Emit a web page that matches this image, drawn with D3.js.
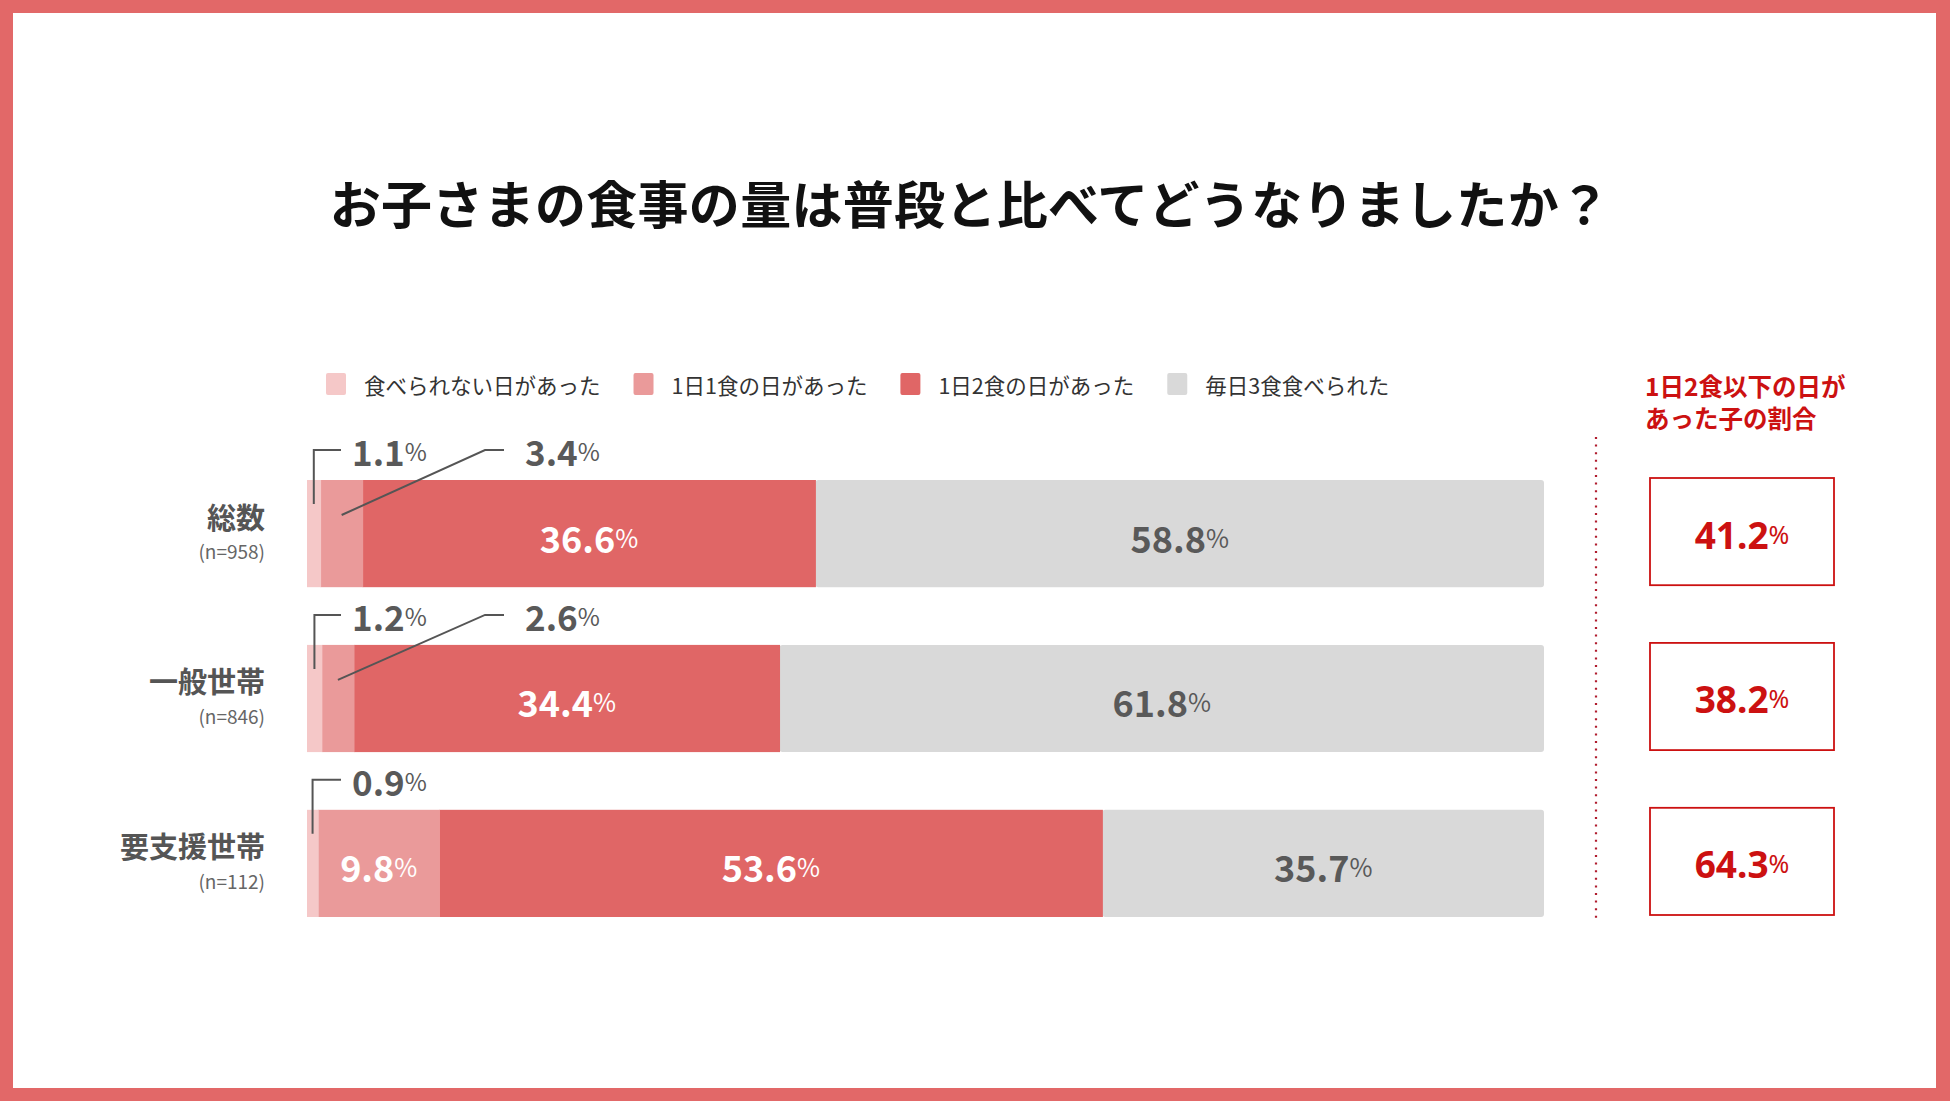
<!DOCTYPE html>
<html>
<head>
<meta charset="utf-8">
<script src="https://cdn.jsdelivr.net/npm/d3@7"></script>
<style>
  body { margin: 0; background: #fff; }
  svg text { font-family: "Noto Sans CJK JP", "Noto Sans", sans-serif; }
</style>
</head>
<body>
<svg id="chart" width="1950" height="1101"></svg>
<script>
// rows of the chart
const groups = ['総数', '一般世帯', '要支援世帯'];
const sampleSizes = ['(n=958)', '(n=846)', '(n=112)'];

// legend / series names
const categories = ['食べられない日があった', '1日1食の日があった', '1日2食の日があった', '毎日3食食べられた'];

// series values (%)
const noMeal = [1.1, 1.2, 0.9];
const oneMeal = [3.4, 2.6, 9.8];
const twoMeals = [36.6, 34.4, 53.6];
const threeMeals = [58.8, 61.8, 35.7];

// 1日2食以下の日があった子の割合
const twoOrLess = [41.2, 38.2, 64.3];

const colors = ['#f5c8c8', '#ea9a9a', '#e06666', '#d9d9d9'];
const red = '#cc1111';

const svg = d3.select('#chart');
const W = 1950, H = 1101;

/// frame
svg.append('rect').attr('width', W).attr('height', H).attr('fill', '#e26868');
svg.append('rect').attr('x', 13).attr('y', 13).attr('width', W - 27).attr('height', H - 26).attr('fill', '#fff');

/// title
svg.append('text')
  .attr('x', 970).attr('y', 202)
  .attr('text-anchor', 'middle').attr('dominant-baseline', 'central')
  .attr('font-size', 51).attr('font-weight', 700).attr('fill', '#111')
  .attr('letter-spacing', 0.3)
  .text('お子さまの食事の量は普段と比べてどうなりましたか？');

/// scales
const x = d3.scaleLinear().domain([0, 100]).range([307, 1544]);
const y = d3.scaleBand().domain(groups).range([480, 917]).paddingInner(0.35);

const rows = groups.map(function(g, i) {
  return { group: g, n: sampleSizes[i], values: [noMeal[i], oneMeal[i], twoMeals[i], threeMeals[i]] };
});

/// legend
let lx = 326;
const legend = svg.append('g');
categories.forEach(function(c, i) {
  const item = legend.append('g').attr('transform', 'translate(' + lx + ',373)');
  item.append('rect').attr('width', 20).attr('height', 22).attr('rx', 2).attr('fill', colors[i]);
  const t = item.append('text')
    .attr('x', 38).attr('y', 11).attr('dominant-baseline', 'central')
    .attr('font-size', 21.5).attr('fill', '#333')
    .text(c);
  lx += 38 + t.node().getComputedTextLength() + 33;
});

/// helper: number with a smaller %
function pctText(sel, v, big, small) {
  sel.append('tspan').attr('font-size', big).text(v.toFixed(1));
  sel.append('tspan').attr('font-size', small).attr('font-weight', 400).text('%');
}

/// bars
const rowG = svg.selectAll('.row')
  .data(rows)
  .enter().append('g')
  .attr('class', 'row')
  .attr('transform', function(d) { return 'translate(0,' + y(d.group) + ')'; });

const bw = y.bandwidth();

rowG.each(function(d) {
  const g = d3.select(this);
  let acc = 0;
  const segs = d.values.map(function(v, k) {
    const s = { k: k, v: v, x0: acc, x1: acc + v };
    acc += v;
    return s;
  });
  // gray remainder runs to the end of the bar
  segs[3].x1 = 100;

  g.selectAll('rect.seg')
    .data(segs.slice().reverse())
    .enter().append('rect')
    .attr('class', 'seg')
    .attr('x', function(s) { return x(s.x0); })
    .attr('y', 0)
    .attr('width', function(s) { return x(s.x1) - x(s.x0) + (s.k === 3 ? 0 : 0.5); })
    .attr('height', bw)
    .attr('rx', function(s) { return s.k === 3 ? 3 : 0; })
    .attr('fill', function(s) { return colors[s.k]; });

  segs.forEach(function(s) {
    const cx = (x(s.x0) + x(s.x1)) / 2;
    if (s.v >= 5) {
      const t = g.append('text')
        .attr('x', cx).attr('y', bw / 2 + 3)
        .attr('text-anchor', 'middle').attr('dominant-baseline', 'central')
        .attr('font-weight', 700)
        .attr('fill', s.k === 3 ? '#595959' : '#fff');
      pctText(t, s.v, 36, 25);
    } else {
      // outside label with leader line
      const first = s.k === 0;
      const elbowX = first ? x(0) + 34 : x(0) + 178;
      const endX = first ? x(0) + 34 : x(0) + 197;
      const ly = -30;
      const pts = first
        ? [[cx, 24], [cx, ly], [endX, ly]]
        : [[cx, 35], [elbowX, ly], [endX, ly]];
      g.append('path')
        .attr('d', d3.line()(pts))
        .attr('fill', 'none').attr('stroke', '#555').attr('stroke-width', 2);
      const t = g.append('text')
        .attr('x', endX + (first ? 11 : 21)).attr('y', ly)
        .attr('dominant-baseline', 'central')
        .attr('font-weight', 700).attr('fill', '#595959');
      pctText(t, s.v, 35, 24);
    }
  });

  // row labels
  g.append('text')
    .attr('x', 265).attr('y', bw / 2 - 18)
    .attr('text-anchor', 'end').attr('dominant-baseline', 'central')
    .attr('font-size', 29).attr('font-weight', 700).attr('fill', '#555')
    .text(d.group);
  g.append('text')
    .attr('x', 265).attr('y', bw / 2 + 17)
    .attr('text-anchor', 'end').attr('dominant-baseline', 'central')
    .attr('font-size', 19).attr('fill', '#666')
    .text(d.n);
});

/// right panel: share of children with 2 meals or fewer
svg.append('line')
  .attr('x1', 1596).attr('x2', 1596).attr('y1', 437).attr('y2', 920)
  .attr('stroke', '#b01c2e').attr('stroke-width', 2.2)
  .attr('stroke-dasharray', '2 5.6');

const head = svg.append('text')
  .attr('x', 1645).attr('font-size', 24.5).attr('font-weight', 700).attr('fill', red);
head.append('tspan').attr('x', 1645).attr('y', 396).text('1日2食以下の日が');
head.append('tspan').attr('x', 1645).attr('y', 428).text('あった子の割合');

const boxes = svg.selectAll('.box')
  .data(groups.map(function(g, i) { return { group: g, v: twoOrLess[i] }; }))
  .enter().append('g')
  .attr('class', 'box')
  .attr('transform', function(d) { return 'translate(1650,' + (y(d.group) - 2) + ')'; });

boxes.append('rect')
  .attr('width', 184).attr('height', bw)
  .attr('fill', '#fff').attr('stroke', red).attr('stroke-width', 1.8);

boxes.append('text')
  .attr('x', 92).attr('y', bw / 2 + 2)
  .attr('text-anchor', 'middle').attr('dominant-baseline', 'central')
  .attr('font-weight', 700).attr('fill', red)
  .style('font-family', '"Noto Sans", sans-serif')
  .each(function(d) { pctText(d3.select(this), d.v, 37, 25); });
</script>
</body>
</html>
